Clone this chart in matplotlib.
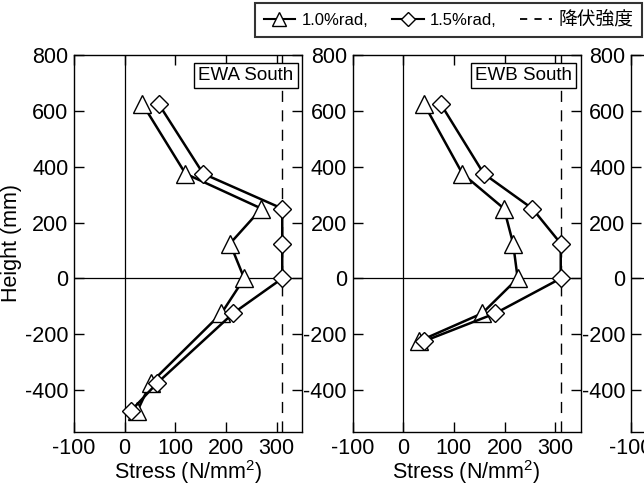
import matplotlib
matplotlib.use("Agg")
import matplotlib.pyplot as plt
from matplotlib.lines import Line2D

plt.rcParams['font.family'] = ['Liberation Sans', 'Noto Sans CJK JP', 'DejaVu Sans']
plt.rcParams['mathtext.fontset'] = 'custom'
plt.rcParams['mathtext.rm'] = 'Liberation Sans'
plt.rcParams['mathtext.it'] = 'Liberation Sans'
plt.rcParams['axes.unicode_minus'] = False

# Measured stress distributions along the wall height
heights_a = [625, 375, 250, 125, 0, -125, -375, -475]
ewa_rad10 = [35, 120, 270, 208, 236, 191, 51, 25]
ewa_rad15 = [67, 155, 311, 311, 311, 214, 64, 12]

heights_b = [625, 375, 250, 125, 0, -125, -225]
ewb_rad10 = [41, 117, 199, 217, 226, 156, 31]
ewb_rad15 = [74, 159, 255, 311, 311, 182, 41]

yield_stress = 311

panel_titles = ["EWA South", "EWB South"]
legend_labels = ["1.0%rad,", "1.5%rad,", "降伏強度"]
x_ticks = [-100, 0, 100, 200, 300]
y_ticks = [-400, -200, 0, 200, 400, 600, 800]

W, H = 644, 492
fig = plt.figure(figsize=(W / 100, H / 100), dpi=100)

ax_w = 228
top, bottom = 55, 432
lefts = [74, 352.5, 631]

axes = []
for left in lefts:
    ax = fig.add_axes([left / W, 1 - bottom / H, ax_w / W, (bottom - top) / H])
    ax.set_xlim(-100, 350)
    ax.set_ylim(-550, 800)
    ax.set_xticks(x_ticks)
    ax.set_yticks(y_ticks)
    ax.tick_params(direction='in', top=True, right=True, length=7, width=1,
                   labelsize=15.5, pad=4, colors='black')
    for s in ax.spines.values():
        s.set_linewidth(1.0)
    ax.axhline(0, color='black', lw=0.9, zorder=1)
    ax.axvline(0, color='black', lw=0.9, zorder=1)
    axes.append(ax)

series = [
    (heights_a, ewa_rad10, ewa_rad15),
    (heights_b, ewb_rad10, ewb_rad15),
]

for ax, (h, s10, s15), title in zip(axes[:2], series, panel_titles):
    ax.axvline(yield_stress, color='black', lw=1.0, ls=(0, (8, 6)), zorder=1)
    ax.plot(s10, h, color='black', lw=1.8, marker='^', ms=13,
            mfc='white', mec='black', mew=1.0, zorder=3)
    ax.plot(s15, h, color='black', lw=1.8, marker='D', ms=9.5,
            mfc='white', mec='black', mew=1.0, zorder=4)
    ax.text(0.963, 0.968, title, transform=ax.transAxes, ha='right', va='top',
            fontsize=13.5, zorder=6,
            bbox=dict(boxstyle='square,pad=0.22', fc='white', ec='black', lw=1.0))
    ax.set_xlabel('Stress (N/mm$^{2}$)', fontsize=15.5, labelpad=0)

axes[0].set_ylabel('Height (mm)', fontsize=15.5, labelpad=2)

handles = [
    Line2D([], [], color='black', lw=1.5, marker='^', ms=10, mfc='white', mec='black', mew=1.0),
    Line2D([], [], color='black', lw=1.5, marker='D', ms=7.5, mfc='white', mec='black', mew=1.0),
    Line2D([], [], color='black', lw=1.3, ls=(0, (4, 4))),
]
leg = fig.legend(handles, legend_labels, ncol=3, loc='upper right',
                 bbox_to_anchor=(642 / W, 1 - 3 / H), fontsize=12,
                 frameon=True, fancybox=False, edgecolor='black',
                 handlelength=1.9, handletextpad=0.4, columnspacing=1.4,
                 borderpad=0.5, borderaxespad=0)
leg.get_texts()[2].set_fontsize(13.5)
leg.get_frame().set_linewidth(1.5)

fig.savefig('out.png', dpi=100)
